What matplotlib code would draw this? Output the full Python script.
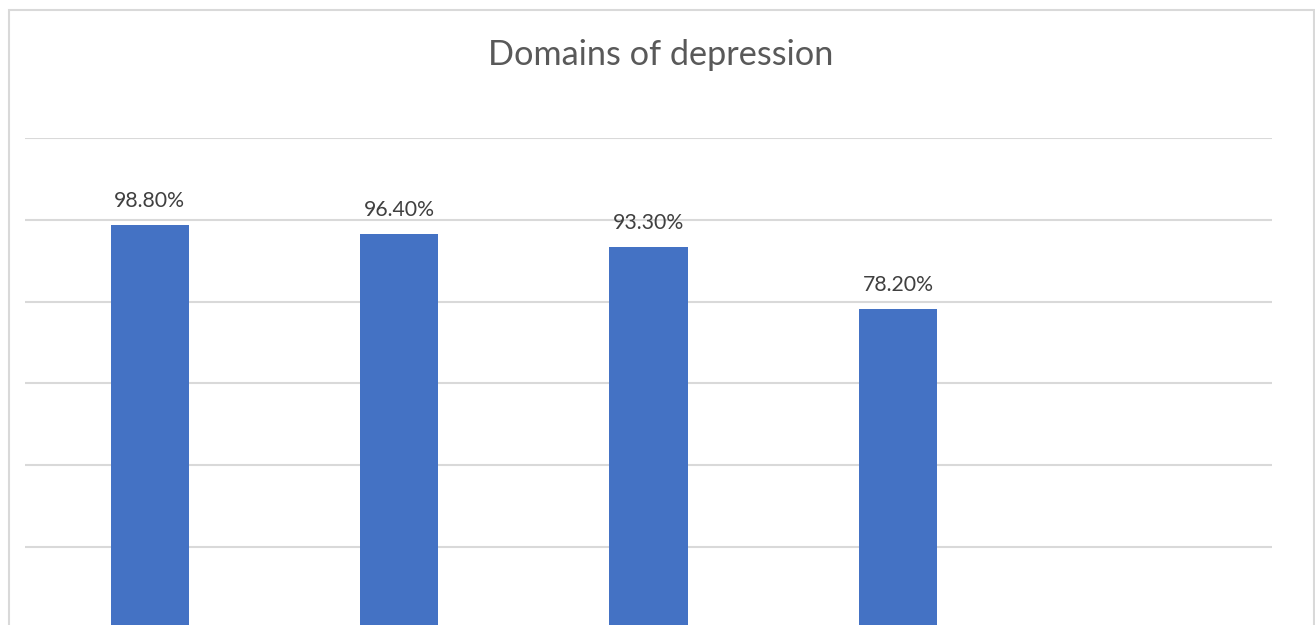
import numpy as np
import matplotlib.pyplot as plt
from matplotlib.patches import Rectangle

# chart data
title = "Domains of depression"
values = [0.988, 0.964, 0.933, 0.782]
n_slots = 5
y_ticks = [0.0, 0.2, 0.4, 0.6, 0.8, 1.0, 1.2]

bar_color = "#4472C4"
grid_color = "#D9D9D9"

W, H = 1315, 625
fig = plt.figure(figsize=(W / 100, H / 100), dpi=100)
fig.patch.set_facecolor("white")

# outer chart frame
fig.patches.append(Rectangle((9 / W, -0.05), (1314 - 9) / W, 1.05 - 10 / H,
                             transform=fig.transFigure, fill=False,
                             edgecolor=grid_color, linewidth=1.5))

ax = fig.add_axes([25 / W, -4.2 / H, (1272 - 25) / W, (629.2 - 137.7) / H])
x = np.arange(len(values))
bars = ax.bar(x, values, width=0.313, color=bar_color, zorder=3)

ax.set_xlim(-0.5, n_slots - 0.5)
ax.set_ylim(0, 1.2)
ax.set_yticks(y_ticks)
ax.yaxis.grid(True, color=grid_color, linewidth=1.5, zorder=0)
ax.tick_params(left=False, bottom=False, labelleft=False, labelbottom=False)
for s in ax.spines.values():
    s.set_visible(False)
ax.set_facecolor("none")

for rect, v in zip(bars, values):
    ax.annotate(f"{v * 100:.2f}%", (rect.get_x() + rect.get_width() / 2, v),
                xytext=(0, 14), textcoords="offset pixels",
                ha="center", va="bottom", fontsize=15.3,
                family=["Lato", "DejaVu Sans"], color="#404040")

fig.text(661 / W, 1 - 55 / H, title, ha="center", va="center",
         fontsize=24.7, family=["Lato", "DejaVu Sans"], color="#595959")

fig.savefig("out.png", dpi=100)
